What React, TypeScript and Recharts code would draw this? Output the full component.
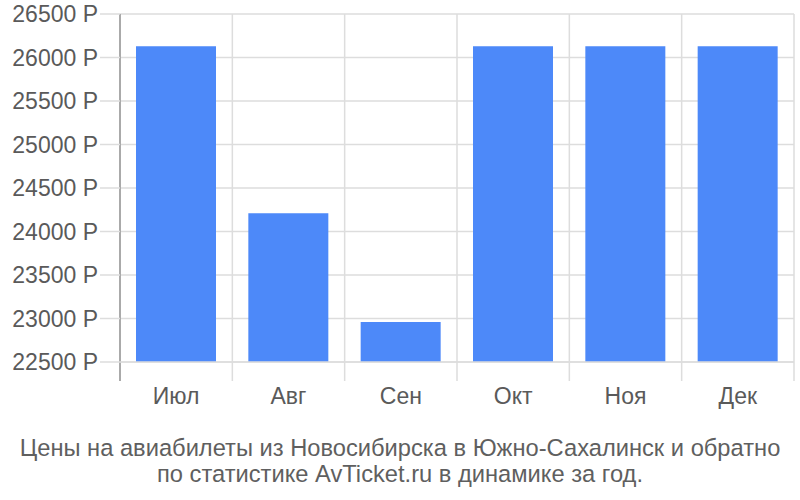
import { Bar, BarChart, CartesianGrid, XAxis, YAxis } from 'recharts';

const months = ['Июл', 'Авг', 'Сен', 'Окт', 'Ноя', 'Дек'];
const prices = [26130, 24210, 22960, 26130, 26130, 26130];
const yTicks = [22500, 23000, 23500, 24000, 24500, 25000, 25500, 26000, 26500];
const boundaryTicks = [0, 1, 2, 3, 4, 5, 6];

const FONT = '"Liberation Sans", Arial, sans-serif';

function VerticalLine(props: any): JSX.Element {
  const first = props.index === 0;
  return (
    <line
      key={props.key}
      x1={props.x1}
      x2={props.x2}
      y1={props.y1}
      y2={props.y2 + 19}
      stroke={first ? '#aaaaaa' : '#dddddd'}
      strokeWidth={first ? 2 : 1.5}
    />
  );
}

export default function App(): JSX.Element {
  const data = months.map((m, i) => ({ name: m, idx: i + 0.5, price: prices[i] }));

  return (
    <div style={{ position: 'absolute', left: 0, top: 0, width: 800, height: 500, fontFamily: FONT }}>
      <BarChart
        width={800}
        height={500}
        data={data}
        margin={{ top: 14, right: 6, left: 0, bottom: 0 }}
      >
        <CartesianGrid
          xAxisId='grid'
          stroke='#dddddd'
          strokeWidth={1.5}
          vertical={VerticalLine}
        />
        <XAxis
          dataKey='name'
          axisLine={{ stroke: '#dddddd', strokeWidth: 1.5 }}
          tickLine={false}
          tick={{ fill: '#5a5a5a', fontSize: 23, fontFamily: FONT }}
          tickMargin={20}
          height={138}
        />
        <XAxis
          xAxisId='grid'
          type='number'
          dataKey='idx'
          domain={[0, 6]}
          ticks={boundaryTicks}
          hide
        />
        <YAxis
          width={120}
          domain={[22500, 26500]}
          ticks={yTicks}
          interval={0}
          axisLine={false}
          tickLine={{ stroke: '#dddddd', strokeWidth: 1.5 }}
          tickSize={20}
          tickMargin={2}
          tickFormatter={(v: number) => `${v} Р`}
          tick={{ fill: '#5a5a5a', fontSize: 23, fontFamily: FONT }}
        />
        <Bar dataKey='price' fill='#4d89f9' barSize={80} isAnimationActive={false} />
      </BarChart>
      <div
        style={{
          position: 'absolute',
          left: 0,
          top: 435,
          width: 800,
          textAlign: 'center',
          color: '#5f5f5f',
          fontSize: 23.7,
          lineHeight: '26px',
        }}
      >
        Цены на авиабилеты из Новосибирска в Южно-Сахалинск и обратно
        <br />
        по статистике AvTicket.ru в динамике за год.
      </div>
    </div>
  );
}
